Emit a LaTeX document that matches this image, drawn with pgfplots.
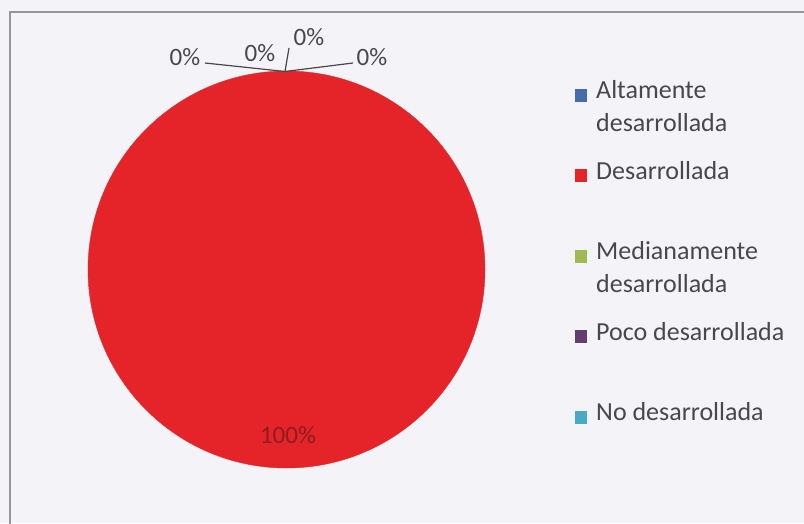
\documentclass[border=0pt]{standalone}
\usepackage{pgfplots}
\pgfplotsset{compat=1.18}
\usepackage{fontspec}
\setmainfont{Carlito}
\definecolor{bg}{RGB}{244,243,247}
\definecolor{framegray}{RGB}{150,150,152}
\definecolor{piered}{RGB}{228,36,40}
\definecolor{altblue}{RGB}{68,108,172}
\definecolor{medgreen}{RGB}{160,185,80}
\definecolor{pocopurple}{RGB}{98,62,112}
\definecolor{noteal}{RGB}{72,170,196}
\definecolor{lbl}{RGB}{72,72,76}
\definecolor{lbldark}{RGB}{140,30,34}
\begin{document}
\begin{tikzpicture}[x=1pt,y=1pt]
\useasboundingbox (0,0) rectangle (804,523);
\fill[bg] (0,0) rectangle (804,523);
\begin{axis}[
  at={(0,0)}, anchor=south west,
  scale only axis, width=804pt, height=523pt,
  xmin=0, xmax=804, ymin=0, ymax=523, y dir=reverse,
  hide axis, clip=false,
  legend image code/.code={\path[#1] (0pt,19pt) rectangle (12pt,32pt);},
  legend cell align=left,
  legend style={draw=none, fill=none, at={(axis cs:575,80.5)}, anchor=north west,
    row sep=0pt, column sep=9pt, inner sep=0pt,
    nodes={font=\fontsize{26}{30}\selectfont, text=lbl, inner sep=0pt,
      text height=18pt, text depth=62.5pt}},
]
\draw[framegray, line width=1.5pt] (axis cs:10,540) -- (axis cs:10,12) -- (axis cs:820,12);
% pie: the only non-zero share (Desarrollada, 100%) fills the whole circle
\addplot[only marks, color=piered, mark=*, mark size=198.5pt, mark options={fill=piered, draw=piered}, forget plot]
  coordinates {(286.5,269.5)};
\addlegendimage{fill=altblue, draw=none}
\addlegendentry{Altamente}
\addlegendimage{fill=piered, draw=none}
\addlegendentry{Desarrollada}
\addlegendimage{fill=medgreen, draw=none}
\addlegendentry{Medianamente}
\addlegendimage{fill=pocopurple, draw=none}
\addlegendentry{Poco desarrollada}
\addlegendimage{fill=noteal, draw=none}
\addlegendentry{No desarrollada}
\coordinate (l1) at (axis cs:185,57);
\coordinate (l2) at (axis cs:260,53);
\coordinate (l3) at (axis cs:309,37);
\coordinate (l4) at (axis cs:372,57);
\coordinate (l5) at (axis cs:288,435);
\coordinate (a1) at (axis cs:205,63);
\coordinate (a2) at (axis cs:285,71.5);
\coordinate (a3) at (axis cs:353,63);
\coordinate (a4) at (axis cs:289,48);
\coordinate (s1) at (axis cs:596,131.5);
\coordinate (s2) at (axis cs:596,292.5);
\end{axis}
% leader lines
\draw[lbl, line width=1.2pt] (a1) -- (a2) -- (a3);
\draw[lbl, line width=1.2pt] (a4) -- (a2);
% data labels
\node[text=lbl, font=\fontsize{25}{30}\selectfont] at (l1) {0\%};
\node[text=lbl, font=\fontsize{25}{30}\selectfont] at (l2) {0\%};
\node[text=lbl, font=\fontsize{25}{30}\selectfont] at (l3) {0\%};
\node[text=lbl, font=\fontsize{25}{30}\selectfont] at (l4) {0\%};
\node[text=lbldark, font=\fontsize{25}{30}\selectfont] at (l5) {100\%};
% second lines of the two-line legend entries
\node[text=lbl, font=\fontsize{26}{30}\selectfont, anchor=base west, inner sep=0pt] at (s1) {desarrollada};
\node[text=lbl, font=\fontsize{26}{30}\selectfont, anchor=base west, inner sep=0pt] at (s2) {desarrollada};
\end{tikzpicture}
\end{document}
